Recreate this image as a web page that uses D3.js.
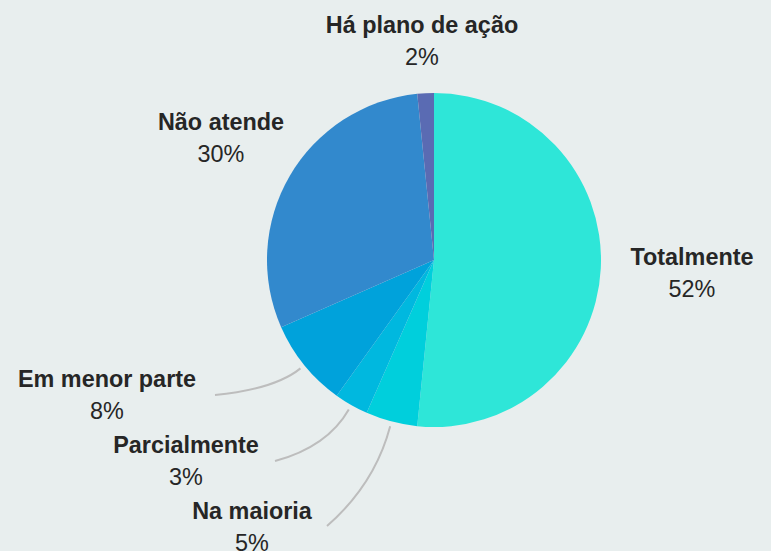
<!DOCTYPE html>
<html>
<head>
<meta charset="utf-8">
<script src="https://cdn.jsdelivr.net/npm/d3@7"></script>
<style>
  html, body { margin: 0; padding: 0; background: #e8eeee; }
  svg { display: block; }
  .lbl-name { font: bold 23.4px "Liberation Sans", Arial, sans-serif; fill: #262626; }
  .lbl-pct { font: 23.4px "Liberation Sans", Arial, sans-serif; fill: #262626; }
  .leader { fill: none; stroke: #bdbdbd; stroke-width: 2; }
</style>
</head>
<body>
<svg id="chart" width="771" height="551"></svg>
<script>
// data, clockwise from 12 o'clock
const categories = ['Totalmente', 'Na maioria', 'Parcialmente', 'Em menor parte', 'Não atende', 'Há plano de ação'];
const shares = [51.6, 5.0, 3.3, 8.5, 30.0, 1.6];
const pctLabels = ['52%', '5%', '3%', '8%', '30%', '2%'];
const colors = ['#2ee6d8', '#00cfdc', '#00b8df', '#00a2db', '#3289cd', '#5a6bb3'];

const W = 771, H = 551;
const CX = 434, CY = 260, R = 167;

// label placement (text centre x, name baseline y); leader = draw curve from slice to label
const labelLayout = {
  'Totalmente':       { x: 692, y: 265 },
  'Na maioria':       { x: 252, y: 519, leader: { ctrlR: 232, end: [327, 526] } },
  'Parcialmente':     { x: 186, y: 453, leader: { ctrlR: 215, end: [275, 461] } },
  'Em menor parte':   { x: 107, y: 387, leader: { ctrlR: 205, end: [215, 395] } },
  'Não atende':       { x: 221, y: 130 },
  'Há plano de ação': { x: 422, y: 33 }
};
const LINE_GAP = 32;

const svg = d3.select('#chart');
const g = svg.append('g').attr('transform', `translate(${CX},${CY})`);

const pie = d3.pie().sort(null).value((d) => d.v);
const arcs = pie(categories.map((c, i) => ({ name: c, v: shares[i], pct: pctLabels[i], color: colors[i] })));

const arc = d3.arc().innerRadius(0).outerRadius(R);

g.selectAll('path.slice')
  .data(arcs)
  .join('path')
  .attr('class', 'slice')
  .attr('d', arc)
  .attr('fill', (d) => d.data.color);

// polar helper: angle measured clockwise from 12 o'clock
const polar = (a, r) => [r * Math.sin(a), -r * Math.cos(a)];

// leaders for the small bottom slices
arcs.forEach((d) => {
  const lay = labelLayout[d.data.name];
  if (!lay.leader) return;
  const mid = (d.startAngle + d.endAngle) / 2;
  const p0 = polar(mid, R + 5);
  const c = polar(mid, lay.leader.ctrlR);
  const end = [lay.leader.end[0] - CX, lay.leader.end[1] - CY];
  const p = d3.path();
  p.moveTo(p0[0], p0[1]);
  p.quadraticCurveTo(c[0], c[1], end[0], end[1]);
  g.append('path').attr('class', 'leader').attr('d', p.toString());
});

// labels
const lg = svg.append('g');
arcs.forEach((d) => {
  const lay = labelLayout[d.data.name];
  lg.append('text').attr('class', 'lbl-name')
    .attr('x', lay.x).attr('y', lay.y)
    .attr('text-anchor', 'middle')
    .text(d.data.name);
  lg.append('text').attr('class', 'lbl-pct')
    .attr('x', lay.x).attr('y', lay.y + LINE_GAP)
    .attr('text-anchor', 'middle')
    .text(d.data.pct);
});
</script>
</body>
</html>
